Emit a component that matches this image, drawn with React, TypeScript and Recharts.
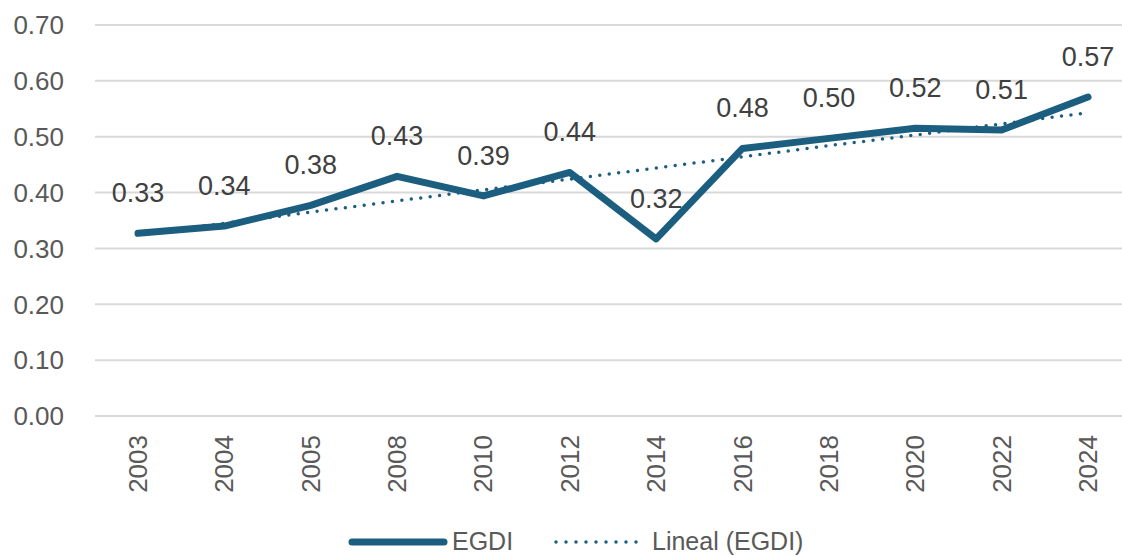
import React from "react";
import { LineChart, Line, XAxis, YAxis, CartesianGrid, Legend, LabelList } from "recharts";

const years = ["2003", "2004", "2005", "2008", "2010", "2012", "2014", "2016", "2018", "2020", "2022", "2024"];
const egdi = [0.327, 0.34, 0.377, 0.429, 0.394, 0.436, 0.317, 0.479, 0.497, 0.515, 0.512, 0.571];
const trend = [0.326, 0.345, 0.365, 0.385, 0.405, 0.424, 0.444, 0.464, 0.484, 0.503, 0.523, 0.543];
const yTicks = [0, 0.1, 0.2, 0.3, 0.4, 0.5, 0.6, 0.7];

const data = years.map((y, i) => ({ year: y, egdi: egdi[i], trend: trend[i] }));

const BLUE = "#1b5e80";
const FONT = "'Liberation Sans', Arial, sans-serif";

const XTick = (props: any) => {
  const { x, y, payload } = props;
  return (
    <text
      x={x}
      y={y}
      transform={`rotate(-90, ${x}, ${y})`}
      textAnchor="end"
      dominantBaseline="central"
      fill="#595959"
      fontSize={26}
      fontFamily={FONT}
    >
      {payload.value}
    </text>
  );
};

const DataLabel = (props: any) => {
  const { x, y, value } = props;
  return (
    <text
      x={x}
      y={y - 40}
      textAnchor="middle"
      dominantBaseline="central"
      fill="#404040"
      fontSize={27}
      fontFamily={FONT}
    >
      {Number(value).toFixed(2)}
    </text>
  );
};

const LegendContent = () => (
  <div style={{ position: "relative", height: 30, width: "100%", fontFamily: FONT, fontSize: 25, color: "#595959" }}>
    <svg style={{ position: "absolute", left: 348, top: 10 }} width={100} height={12}>
      <line x1={4} y1={6} x2={96} y2={6} stroke={BLUE} strokeWidth={7} strokeLinecap="round" />
    </svg>
    <span style={{ position: "absolute", left: 452, top: 0, lineHeight: "30px" }}>EGDI</span>
    <svg style={{ position: "absolute", left: 553, top: 10 }} width={92} height={12}>
      <line x1={3} y1={6} x2={88} y2={6} stroke={BLUE} strokeWidth={3.5} strokeLinecap="round" strokeDasharray="0 10" />
    </svg>
    <span style={{ position: "absolute", left: 652, top: 0, lineHeight: "30px" }}>Lineal (EGDI)</span>
  </div>
);

export default function App() {
  return (
    <div style={{ position: "absolute", left: 0, top: 0, width: 1122, height: 556, overflow: "hidden", background: "#fff" }}>
      <LineChart width={1131} height={556} data={data} margin={{ top: 25, right: 0, bottom: 0, left: 0 }}>
        <CartesianGrid vertical={false} stroke="#d9d9d9" strokeWidth={2} />
        <XAxis
          dataKey="year"
          axisLine={false}
          tickLine={false}
          tickSize={0}
          tickMargin={19}
          height={110}
          interval={0}
          padding={{ left: 43, right: 43 }}
          tick={<XTick />}
        />
        <YAxis
          domain={[0, 0.7]}
          ticks={yTicks}
          width={95}
          axisLine={false}
          tickLine={false}
          tickSize={0}
          tickMargin={31}
          tickFormatter={(v: number) => v.toFixed(2)}
          tick={{ fill: "#595959", fontSize: 26, fontFamily: FONT }}
        />
        <Legend verticalAlign="bottom" height={30} content={<LegendContent />} />
        <Line
          type="linear"
          dataKey="trend"
          stroke={BLUE}
          strokeWidth={3.5}
          strokeLinecap="round"
          strokeDasharray="0 9.5"
          dot={false}
          activeDot={false}
          isAnimationActive={false}
        />
        <Line
          type="linear"
          dataKey="egdi"
          stroke={BLUE}
          strokeWidth={7}
          strokeLinecap="round"
          strokeLinejoin="round"
          dot={false}
          activeDot={false}
          isAnimationActive={false}
        >
          <LabelList dataKey="egdi" content={<DataLabel />} />
        </Line>
      </LineChart>
    </div>
  );
}
